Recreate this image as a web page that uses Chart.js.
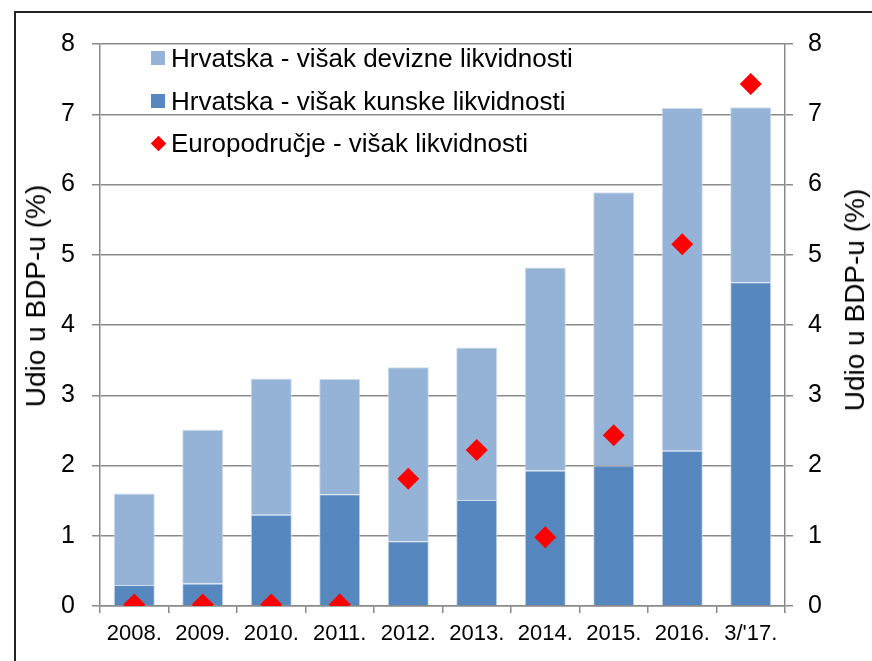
<!DOCTYPE html>
<html>
<head>
<meta charset="utf-8">
<script src="https://cdn.jsdelivr.net/npm/chart.js@4"></script>
<style>
  html, body { margin: 0; padding: 0; background: #fff; }
  #wrap { position: relative; width: 872px; height: 661px; overflow: hidden; font-family: "Liberation Sans", Arial, sans-serif; }
  #frame { position: absolute; left: 14px; top: 11px; width: 900px; height: 700px; border-left: 2px solid #222; border-top: 2px solid #222; box-sizing: border-box; }
  canvas { position: absolute; left: 0; top: 0; }
  .ytitle { position: absolute; white-space: nowrap; font-size: 28px; color: #000; transform: translate(-50%, -50%) rotate(-90deg); }
  .legend { position: absolute; left: 151px; font-size: 26px; color: #000; white-space: nowrap; }
  .legend .item { position: absolute; left: 0; height: 30px; line-height: 30px; }
  .legend .sw { position: absolute; left: 0; top: 8px; width: 14px; height: 14px; }
  .legend .dia { position: absolute; left: 2px; top: 10px; width: 11px; height: 11px; background: #ff0000; transform: rotate(45deg); }
  .legend .tx { position: absolute; left: 20px; top: 0; }
</style>
</head>
<body>
<div id="wrap">
  <div id="frame"></div>
  <canvas id="c" width="872" height="661"></canvas>
  <div class="ytitle" style="left:36px; top:296px;">Udio u BDP-u (%)</div>
  <div class="ytitle" style="left:855px; top:300px;">Udio u BDP-u (%)</div>
  <div class="legend" style="top:0;">
    <div class="item" style="top:43px;"><div class="sw" style="background:#95B3D7"></div><div class="tx">Hrvatska - višak devizne likvidnosti</div></div>
    <div class="item" style="top:86px;"><div class="sw" style="background:#5787BF"></div><div class="tx">Hrvatska - višak kunske likvidnosti</div></div>
    <div class="item" style="top:128px;"><div class="dia"></div><div class="tx">Europodručje - višak likvidnosti</div></div>
  </div>
</div>
<script>
const categories = ["2008.", "2009.", "2010.", "2011.", "2012.", "2013.", "2014.", "2015.", "2016.", "3/'17."];
const kunske = [0.30, 0.32, 1.30, 1.59, 0.92, 1.51, 1.93, 2.00, 2.21, 4.61];
const devizne = [1.30, 2.19, 1.94, 1.64, 2.48, 2.17, 2.89, 3.89, 4.88, 2.49];
const europodrucje = [0.02, 0.02, 0.02, 0.02, 1.81, 2.22, 0.98, 2.43, 5.15, 7.43];
const yTicks = [0, 1, 2, 3, 4, 5, 6, 7, 8];

const gridColor = '#8a8a8a';
const tickFont = { family: '"Liberation Sans", Arial, sans-serif', size: 25 };

new Chart(document.getElementById('c'), {
  data: {
    labels: categories,
    datasets: [
      {
        type: 'line', label: 'Europodručje - višak likvidnosti', data: europodrucje, yAxisID: 'y2',
        showLine: false, pointStyle: 'rectRot', pointRadius: 11, pointHoverRadius: 11,
        pointBackgroundColor: '#ff0000', pointBorderWidth: 0, borderColor: '#ff0000', order: 0
      },
      {
        type: 'bar', label: 'Hrvatska - višak kunske likvidnosti', data: kunske, yAxisID: 'y',
        backgroundColor: '#5787BF', borderColor: '#cddbee', borderWidth: 1, order: 1,
        barPercentage: 0.6, categoryPercentage: 1.0, stack: 's'
      },
      {
        type: 'bar', label: 'Hrvatska - višak devizne likvidnosti', data: devizne, yAxisID: 'y',
        backgroundColor: '#95B3D7', borderColor: '#cddbee', borderWidth: 1, order: 1,
        barPercentage: 0.6, categoryPercentage: 1.0, stack: 's'
      }
    ]
  },
  options: {
    responsive: false,
    animation: false,
    layout: { padding: { top: 44, left: 0, right: 0, bottom: 0 } },
    plugins: { legend: { display: false }, tooltip: { enabled: false } },
    scales: {
      x: {
        stacked: true,
        offset: true,
        grid: { display: true, drawOnChartArea: false, drawTicks: true, tickLength: 7, color: gridColor, lineWidth: 1.5, offset: true },
        border: { display: true, color: gridColor, width: 1.5 },
        ticks: { color: '#000', font: { family: '"Liberation Sans", Arial, sans-serif', size: 22 }, padding: 8, maxRotation: 0, autoSkip: false },
        afterFit: s => { s.height = 55; }
      },
      y: {
        position: 'left', stacked: true, min: 0, max: 8,
        afterBuildTicks: s => { s.ticks = yTicks.map(v => ({ value: v })); },
        grid: { color: gridColor, lineWidth: 1.5, tickLength: 8, drawTicks: true },
        border: { display: true, color: gridColor, width: 1.5 },
        ticks: { color: '#000', font: tickFont, padding: 17 },
        afterFit: s => { s.width = 100; }
      },
      y2: {
        position: 'right', min: 0, max: 8,
        afterBuildTicks: s => { s.ticks = yTicks.map(v => ({ value: v })); },
        grid: { drawOnChartArea: false, color: gridColor, lineWidth: 1.5, tickLength: 8, drawTicks: true },
        border: { display: true, color: gridColor, width: 1.5 },
        ticks: { color: '#000', font: tickFont, padding: 15 },
        afterFit: s => { s.width = 87; }
      }
    }
  }
});
</script>
</body>
</html>
